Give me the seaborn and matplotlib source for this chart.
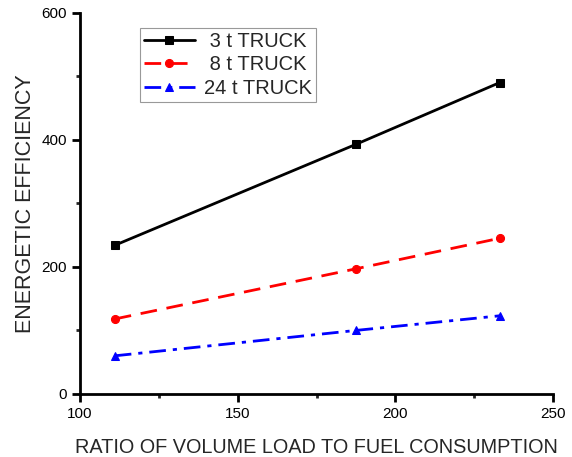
import matplotlib
matplotlib.use("Agg")
import matplotlib.pyplot as plt
import seaborn as sns
from matplotlib.ticker import MultipleLocator

# -------------------------------
# Data
# -------------------------------
ratio = [111, 187.5, 233]
truck_3t = [234, 393, 490]
truck_8t = [118, 197, 245]
truck_24t = [60, 100, 123]

series = [
    (" 3 t TRUCK", truck_3t, "black", "s", "-"),
    (" 8 t TRUCK", truck_8t, "red", "o", (0, (6, 3.5))),
    ("24 t TRUCK", truck_24t, "blue", "^", (0, (6, 2.5, 1.5, 2.5))),
]

sns.set_style("ticks")
plt.rcParams['font.family'] = ['Liberation Sans', 'DejaVu Sans']

fig = plt.figure(figsize=(5.72, 4.57), dpi=100)
ax = fig.add_axes([0.14, 0.138, 0.827, 0.834])

for label, vals, col, mk, ls in series:
    sns.lineplot(x=ratio, y=vals, ax=ax, color=col, marker=mk, linestyle=ls,
                 linewidth=2, markersize=5.8, markeredgecolor=col, label=label)

ax.set_xlim(100, 250)
ax.set_ylim(0, 600)
ax.xaxis.set_major_locator(MultipleLocator(50))
ax.xaxis.set_minor_locator(MultipleLocator(25))
ax.yaxis.set_major_locator(MultipleLocator(200))
ax.yaxis.set_minor_locator(MultipleLocator(100))

for s in ["top", "right"]:
    ax.spines[s].set_visible(False)
for s in ["left", "bottom"]:
    ax.spines[s].set_linewidth(2)
    ax.spines[s].set_color("black")

ax.tick_params(which="major", direction="out", length=6, width=2,
               labelsize=11, colors="black")
ax.tick_params(which="minor", direction="out", length=3, width=2)

ax.set_xlabel("RATIO OF VOLUME LOAD TO FUEL CONSUMPTION", fontsize=14.3, labelpad=12)
ax.set_ylabel("ENERGETIC EFFICIENCY", fontsize=15.5, labelpad=4)

leg = ax.legend(loc="upper left", bbox_to_anchor=(0.127, 0.961), fontsize=14.5,
                frameon=True, fancybox=False, edgecolor="gray",
                handlelength=2.5, borderpad=0.2, labelspacing=0.23,
                handletextpad=0.45, borderaxespad=0)
leg.get_frame().set_linewidth(0.8)

fig.savefig("out.png", dpi=100)
